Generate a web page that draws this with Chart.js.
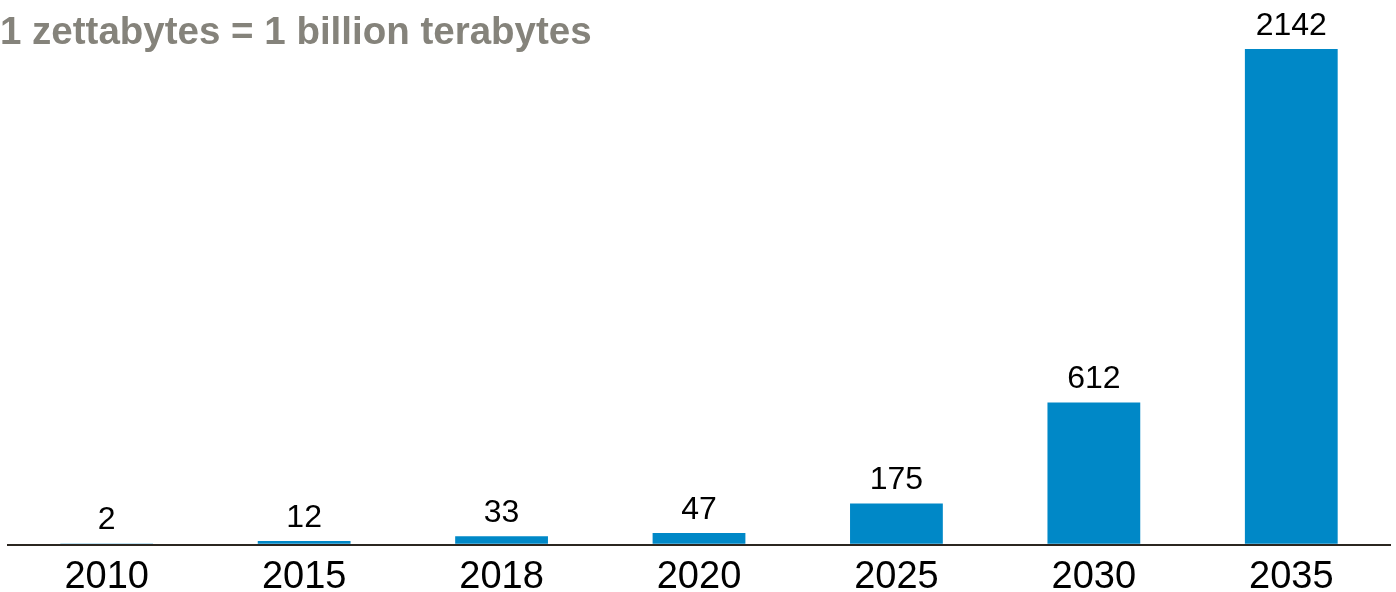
<!DOCTYPE html>
<html>
<head>
<meta charset="utf-8">
<script src="https://cdn.jsdelivr.net/npm/chart.js@4.4.1/dist/chart.umd.min.js"></script>
<style>
    html, body { margin: 0; padding: 0; background: #fff; }
    #wrap { position: relative; width: 1396px; height: 592px; }
    #title {
        position: absolute; left: 0; top: 12px;
        font-family: 'Liberation Sans', Arial, sans-serif;
        font-weight: bold; font-size: 38.5px; line-height: 38px; color: #85837b;
        white-space: nowrap;
    }
</style>
</head>
<body>
<div id="wrap">
    <canvas id="zbChart" width="1396" height="592"></canvas>
    <div id="title">1 zettabytes = 1 billion terabytes</div>
</div>
<script>
// Global datasphere, zettabytes
const years = ['2010', '2015', '2018', '2020', '2025', '2030', '2035'];
const zettabytes = [2, 12, 33, 47, 175, 612, 2142];

const FONT = "'Liberation Sans', Arial, sans-serif";

// draws the value above each bar
const valueLabels = {
    id: 'valueLabels',
    afterDatasetsDraw(chart) {
        const ctx = chart.ctx;
        const meta = chart.getDatasetMeta(0);
        ctx.save();
        ctx.fillStyle = '#000';
        ctx.font = '32px ' + FONT;
        ctx.textAlign = 'center';
        ctx.textBaseline = 'alphabetic';
        meta.data.forEach((bar, i) => {
            ctx.fillText(String(zettabytes[i]), bar.x, bar.y - 14);
        });
        ctx.restore();
    }
};

new Chart(document.getElementById('zbChart').getContext('2d'), {
    type: 'bar',
    data: {
        labels: years,
        datasets: [{
            data: zettabytes,
            backgroundColor: '#0088c7',
            barPercentage: 0.47,
            categoryPercentage: 1.0
        }]
    },
    options: {
        responsive: false,
        animation: false,
        layout: { padding: { left: 8, right: 6, top: 49, bottom: 0 } },
        scales: {
            x: {
                grid: { display: false, drawTicks: false },
                border: { display: true, color: '#2b2620', width: 2 },
                ticks: { color: '#000', font: { family: FONT, size: 38, lineHeight: 1 }, padding: 14 },
                afterFit(scale) { scale.height = 47; }
            },
            y: {
                display: false,
                min: -5,
                max: 2142
            }
        },
        plugins: {
            legend: { display: false },
            tooltip: { enabled: false }
        }
    },
    plugins: [valueLabels]
});
</script>
</body>
</html>
